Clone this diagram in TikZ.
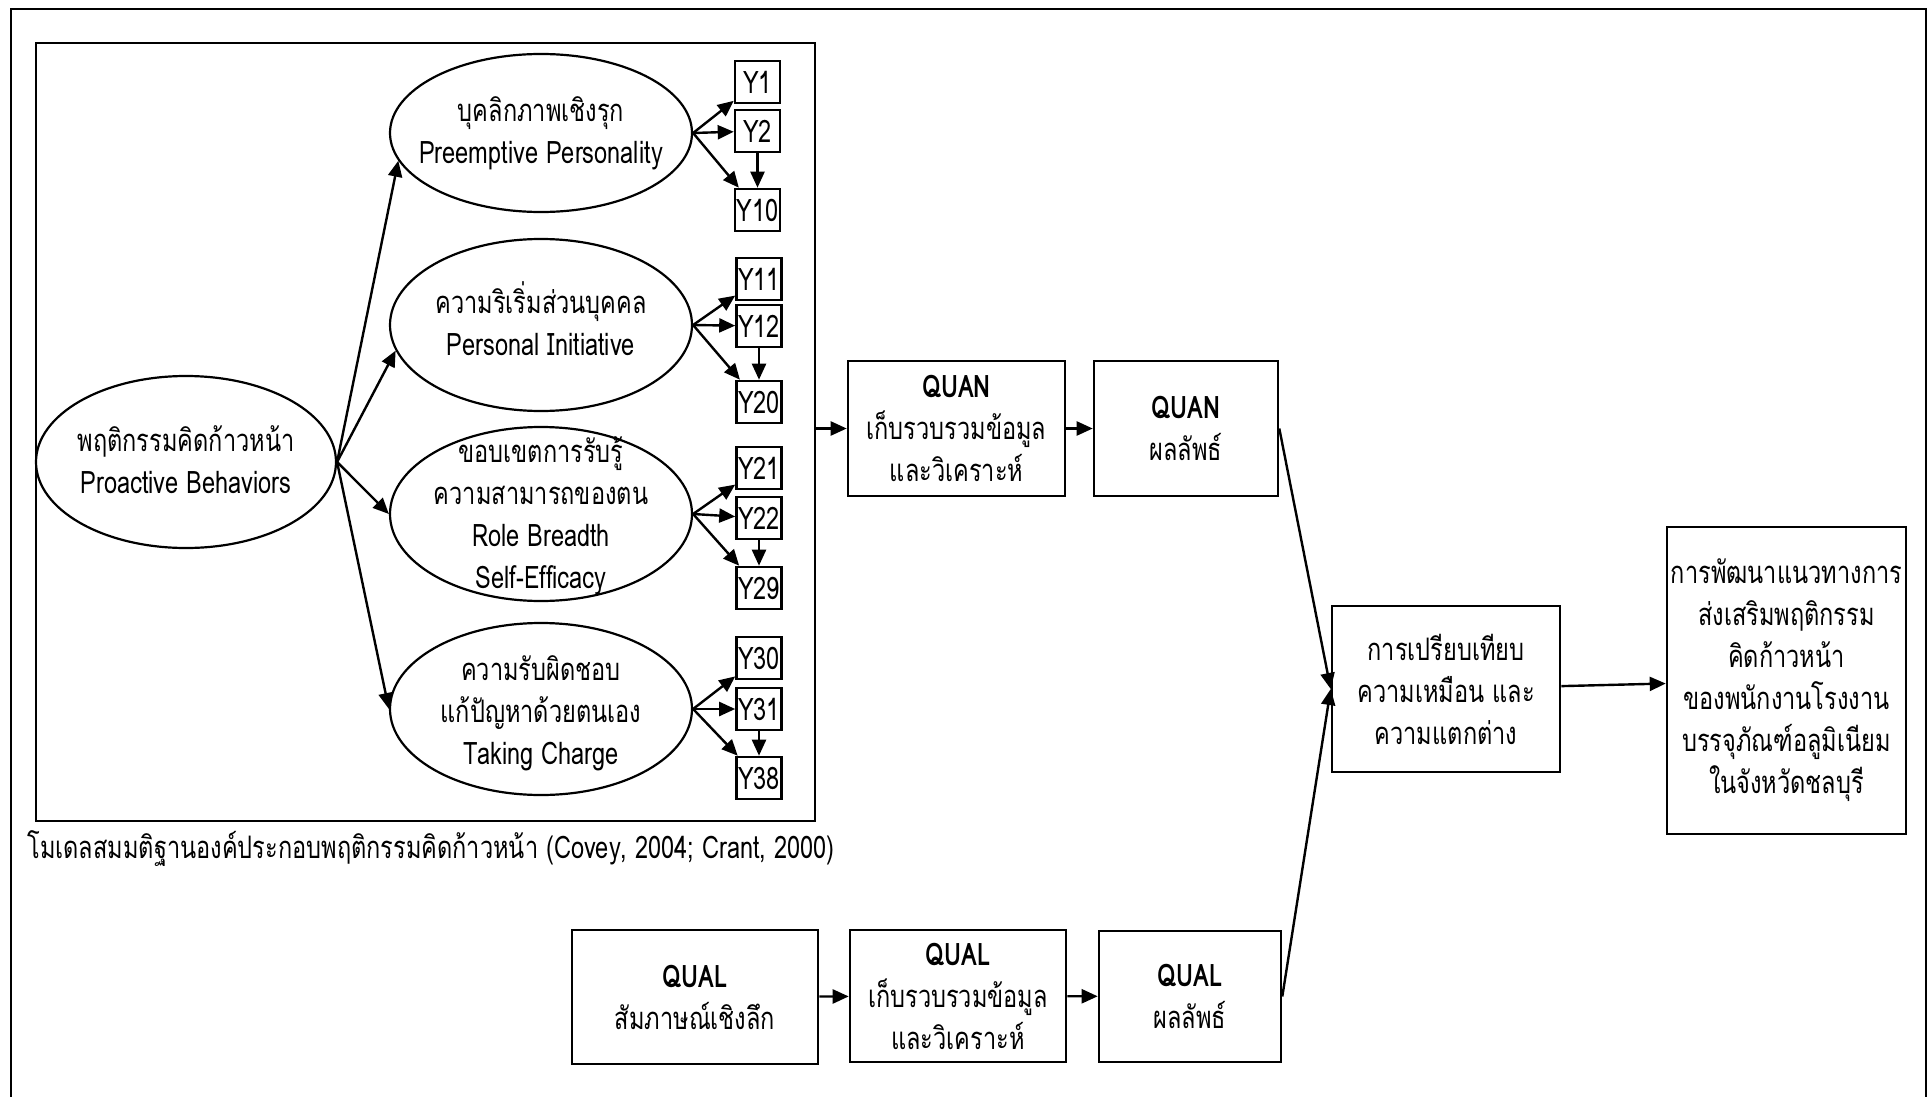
\documentclass[tikz,border=0pt]{standalone}
\usepackage{fontspec}
\setmainfont{Loma}[Script=Thai, FakeStretch=0.76]
\usetikzlibrary{shapes.geometric, arrows.meta}
\newcommand\diagfont{\fontsize{15.5}{21}\selectfont}
\begin{document}
\begin{tikzpicture}[x=0.5pt, y=-0.5pt,
  ell/.style={draw, ellipse, inner sep=0pt, line width=1.1pt},
  lbl/.style={align=center, font=\diagfont, inner sep=0pt},
  box/.style={draw, rectangle, inner sep=0pt, line width=1.3pt, align=center, font=\diagfont},
  ybox/.style={draw, rectangle, inner sep=0pt, minimum width=22.5pt, minimum height=21pt, line width=1.3pt, font=\diagfont},
  arr/.style={-{Triangle[length=8pt, width=7pt]}, line width=1.2pt},
]
\useasboundingbox (0,0) rectangle (1928,1097);
% outer frame (open at the bottom of the page)
\draw[line width=1.3pt] (11,1130) -- (11,9) -- (1926,9) -- (1926,1130);

% hypothesis model frame
\node[draw, line width=1.3pt, minimum width=389.5pt, minimum height=389pt, inner sep=0pt] (frame) at (425.5,432) {};
\node[anchor=west, font=\diagfont, inner sep=0pt] (cap) at (27,849) {โมเดลสมมติฐานองค์ประกอบพฤติกรรมคิดก้าวหน้า (Covey, 2004; Crant, 2000)};

% latent constructs
\node[ell, minimum width=150pt, minimum height=86pt] (pb) at (186,462) {};
\node[lbl] (pbt) at ([yshift=1pt]pb) {พฤติกรรมคิดก้าวหน้า\\Proactive Behaviors};
\node[ell, minimum width=151pt, minimum height=79pt] (e1) at (541,133) {};
\node[lbl] (e1t) at (e1) {บุคลิกภาพเชิงรุก\\Preemptive Personality};
\node[ell, minimum width=151pt, minimum height=86pt] (e2) at (541,325) {};
\node[lbl] (e2t) at ([yshift=3pt]e2) {ความริเริ่มส่วนบุคคล\\Personal Initiative};
\node[ell, minimum width=151pt, minimum height=87pt] (e3) at (541,514) {};
\node[lbl] (e3t) at ([yshift=-1pt]e3) {ขอบเขตการรับรู้\\ความสามารถของตน\\Role Breadth\\Self-Efficacy};
\node[ell, minimum width=151pt, minimum height=86pt] (e4) at (541,709) {};
\node[lbl] (e4t) at ([yshift=-2pt]e4) {ความรับผิดชอบ\\แก้ปัญหาด้วยตนเอง\\Taking Charge};

% observed indicators
\node[ybox] (y1)  at (757.5,82)  {Y1};
\node[ybox] (y2)  at (757.5,131) {Y2};
\node[ybox] (y10) at (757.5,210) {Y10};
\node[ybox] (y11) at (759,279) {Y11};
\node[ybox] (y12) at (759,326) {Y12};
\node[ybox] (y20) at (759,402) {Y20};
\node[ybox] (y21) at (759,468) {Y21};
\node[ybox] (y22) at (759,518) {Y22};
\node[ybox] (y29) at (759,588) {Y29};
\node[ybox] (y30) at (759,658) {Y30};
\node[ybox] (y31) at (759,709) {Y31};
\node[ybox] (y38) at (759,778) {Y38};

\draw[arr] (pb.east) -- (e1.191);
\draw[arr] (pb.east) -- (e2.190);
\draw[arr] (pb.east) -- (e3.180);
\draw[arr] (pb.east) -- (e4.180);
\foreach \e/\a/\b/\c in {e1/y1/y2/y10, e2/y11/y12/y20, e3/y21/y22/y29, e4/y30/y31/y38} {
  \draw[arr] (\e.east) -- (\a);
  \draw[arr] (\e.east) -- (\b);
  \draw[arr] (\e.east) -- (\c);
  \draw[arr] (\b.south) -- (\c.north);
}

% quantitative strand
\node[box, minimum width=108.5pt, minimum height=67.5pt] (quan1) at (956.5,428.5) {\textbf{QUAN}\\เก็บรวบรวมข้อมูล\\และวิเคราะห์};
\node[box, minimum width=92pt, minimum height=67.5pt] (quan2) at (1186,428.5) {\textbf{QUAN}\\ผลลัพธ์};

% qualitative strand
\node[box, minimum width=123pt, minimum height=67pt] (qual1) at (695,997) {\textbf{QUAL}\\สัมภาษณ์เชิงลึก};
\node[box, minimum width=108pt, minimum height=66pt] (qual2) at (958,996) {\textbf{QUAL}\\เก็บรวบรวมข้อมูล\\และวิเคราะห์};
\node[box, minimum width=91pt, minimum height=65.5pt] (qual3) at (1190,996.5) {\textbf{QUAL}\\ผลลัพธ์};

% integration
\node[box, minimum width=114pt, minimum height=83pt] (cmp) at (1446,689) {การเปรียบเทียบ\\ความเหมือน และ\\ความแตกต่าง};
\node[box, minimum width=119.5pt, minimum height=153.5pt] (fin) at (1786.5,680.5) {การพัฒนาแนวทางการ\\ส่งเสริมพฤติกรรม\\คิดก้าวหน้า\\ของพนักงานโรงงาน\\บรรจุภัณฑ์อลูมิเนียม\\ในจังหวัดชลบุรี};

\draw[arr] (frame.east |- quan1.west) -- (quan1.west);
\draw[arr] (quan1) -- (quan2);
\draw[arr] (quan2.east) -- (cmp.west);
\draw[arr] (qual1) -- (qual2);
\draw[arr] (qual2) -- (qual3);
\draw[arr] (qual3.east) -- (cmp.west);
\draw[arr] (cmp) -- (fin);
\end{tikzpicture}
\end{document}
